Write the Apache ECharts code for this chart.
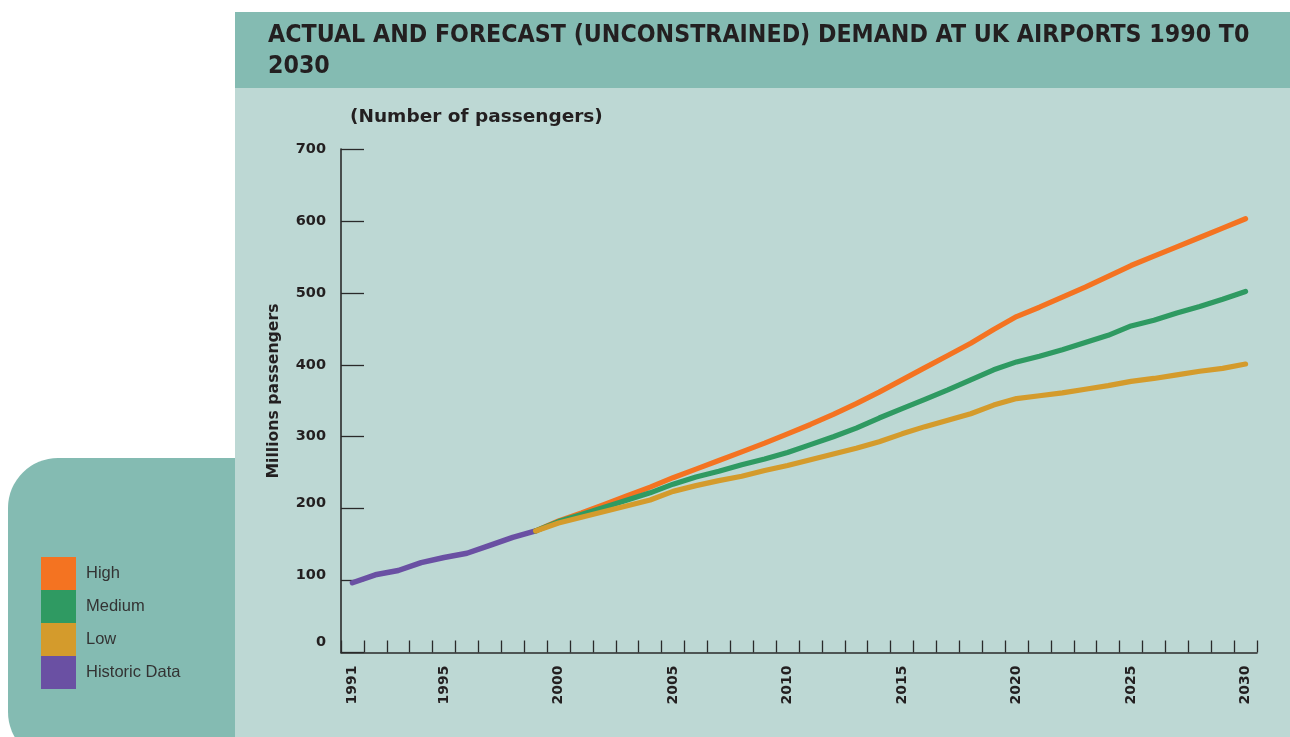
<!DOCTYPE html>
<html>
<head>
<meta charset="utf-8">
<script src="https://cdn.jsdelivr.net/npm/echarts@6/dist/echarts.min.js"></script>
<style>
html,body{margin:0;padding:0;background:#fff;}
#c{width:1290px;height:737px;}
</style>
</head>
<body>
<div id="c"></div>
<script>
const years = ['1991','1992','1993','1994','1995','1996','1997','1998','1999','2000',
  '2001','2002','2003','2004','2005','2006','2007','2008','2009','2010',
  '2011','2012','2013','2014','2015','2016','2017','2018','2019','2020',
  '2021','2022','2023','2024','2025','2026','2027','2028','2029','2030'];
// Historic 1991-1999
const historic = [97,108,114,125,132,138,149,160,169];
// Forecasts 1999-2030
const high = [169,183,194,206,218,230,243,255,267,279,291,304,317,331,346,362,379,396,413,430,449,467,480,494,508,523,538,551,564,577,590,603];
const medium = [169,182,192,202,212,222,234,244,252,261,269,278,289,300,312,326,339,352,365,379,393,404,412,421,431,441,454,462,472,481,491,502];
const low = [169,180,188,196,204,212,224,232,239,245,253,260,268,276,284,293,304,314,323,332,344,353,357,361,366,371,377,381,386,391,395,401];
const yTicks = [0,100,200,300,400,500,600,700];
const xLabelYears = ['1991','1995','2000','2005','2010','2015','2020','2025','2030'];

const histData = years.map((y,i)=> i < historic.length ? historic[i] : null);
const fStart = years.indexOf('1999');
const pad = arr => years.map((y,i)=> i >= fStart ? arr[i-fStart] : null);

const C = {high:'#F47321', med:'#2F9A62', low:'#D49B2C', hist:'#6A50A3'};
const BOLD = '"DejaVu Sans", sans-serif';

const chart = echarts.init(document.getElementById('c'), null, {renderer:'canvas'});
const lineS = (name, data, color, w) => ({
  name, type:'line', data, symbol:'none', smooth:false, connectNulls:false,
  lineStyle:{color, width:w, cap:'round', join:'round'},
  itemStyle:{color}, emphasis:{disabled:true}, animation:false
});
chart.setOption({
  backgroundColor:'#ffffff',
  animation:false,
  title:{
    text:'ACTUAL AND FORECAST (UNCONSTRAINED) DEMAND AT UK AIRPORTS 1990 T0\n2030',
    left:268, top:20, padding:0,
    textStyle:{fontFamily:'"DejaVu Sans Condensed", "DejaVu Sans", sans-serif', fontWeight:'bold', fontSize:24.7, lineHeight:31, color:'#231f20'}
  },
  graphic:[
    {type:'rect', z:-10, silent:true, shape:{x:8,y:458,width:300,height:304,r:[50,0,0,50]}, style:{fill:'#84BBB2'}},
    {type:'rect', z:-9, silent:true, shape:{x:235,y:88,width:1055,height:649}, style:{fill:'#BDD8D4'}},
    {type:'rect', z:-9, silent:true, shape:{x:235,y:12,width:1055,height:76}, style:{fill:'#84BBB2'}},
    {type:'text', z:10, silent:true, x:350, y:117, style:{text:'(Number of passengers)', fontFamily:BOLD, fontWeight:'bold', fontSize:18.5, fill:'#231f20', textVerticalAlign:'middle', textAlign:'left'}},
    {type:'text', z:10, silent:true, x:274, y:391, rotation:Math.PI/2, style:{text:'Millions passengers', fontFamily:BOLD, fontWeight:'bold', fontSize:15.7, fill:'#231f20', textVerticalAlign:'middle', textAlign:'center'}}
  ],
  legend:{
    data:['High','Medium','Low','Historic Data'],
    orient:'vertical', left:41, top:557, itemWidth:35, itemHeight:33, itemGap:0,
    icon:'rect', selectedMode:false, padding:0,
    textStyle:{fontFamily:'"Liberation Sans", Arial, sans-serif', fontSize:16.5, color:'#333333', padding:[0,0,0,5]}
  },
  grid:{left:341, right:33, top:149, bottom:84.5, containLabel:false},
  xAxis:{
    type:'category', data:years, boundaryGap:true,
    axisLine:{show:true, lineStyle:{color:'#2a2a2a', width:1.6}},
    axisTick:{show:true, inside:true, length:12, interval:0, lineStyle:{color:'#2a2a2a', width:1.3}},
    axisLabel:{
      rotate:90, margin:13, interval:(i,v)=> xLabelYears.indexOf(v) >= 0,
      fontFamily:BOLD, fontWeight:'bold', fontSize:14, color:'#231f20'
    },
    splitLine:{show:false}
  },
  yAxis:{
    type:'value', min:0, max:700, interval:100,
    axisLine:{show:true, lineStyle:{color:'#2a2a2a', width:1.6}},
    axisTick:{show:true, inside:true, length:23, lineStyle:{color:'#2a2a2a', width:1.3}},
    axisLabel:{
      margin:15, fontFamily:BOLD, fontWeight:'bold', fontSize:14.5, color:'#231f20',
      formatter:v => yTicks.indexOf(v) >= 0 ? (v === 0 ? '{z|0}' : (v <= 200 ? '{s|'+v+'}' : String(v))) : '',
      rich:{
        z:{fontFamily:BOLD, fontWeight:'bold', fontSize:14.5, color:'#231f20', padding:[0,0,20,0]},
        s:{fontFamily:BOLD, fontWeight:'bold', fontSize:14.5, color:'#231f20', padding:[0,0,10,0]}
      }
    },
    splitLine:{show:false}
  },
  tooltip:{show:false},
  series:[
    lineS('Historic Data', histData, C.hist, 5.5),
    lineS('High', pad(high), C.high, 5.2),
    lineS('Medium', pad(medium), C.med, 5.2),
    lineS('Low', pad(low), C.low, 5.2)
  ]
});
</script>
</body>
</html>
